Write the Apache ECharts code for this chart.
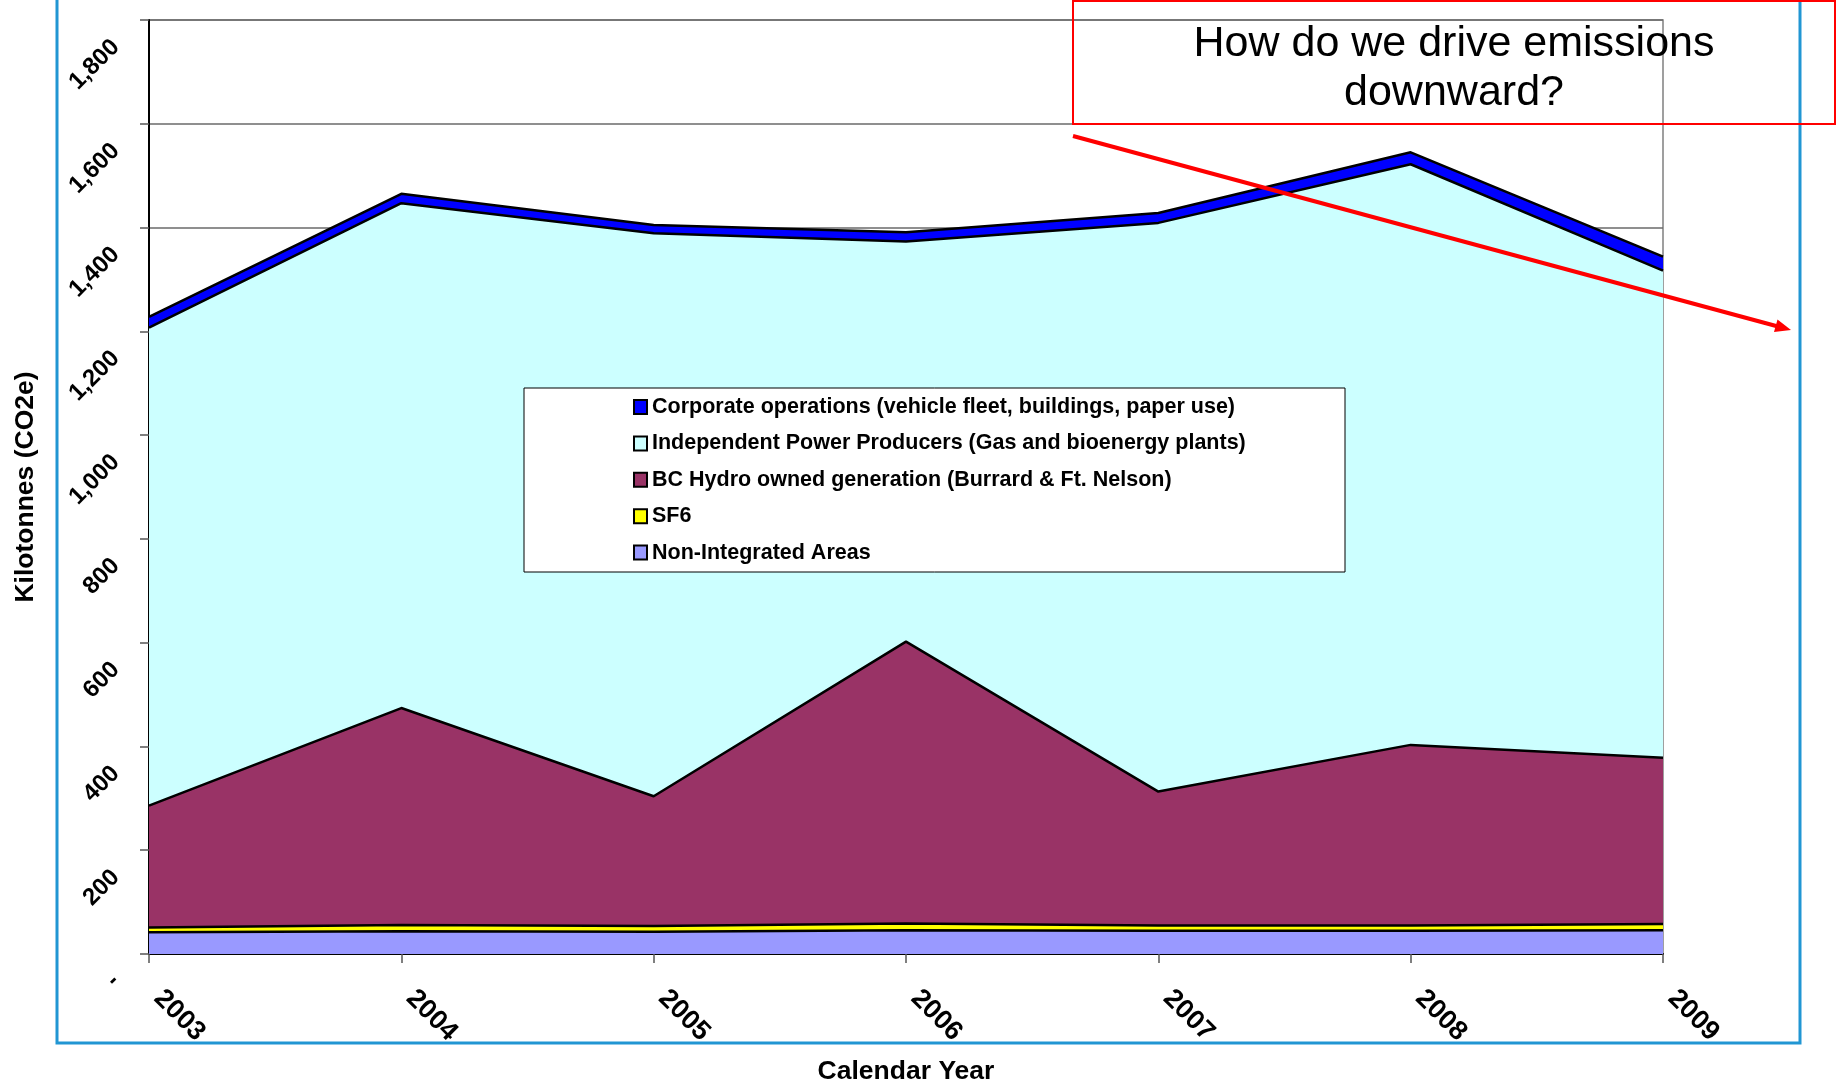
<!DOCTYPE html>
<html>
<head>
<meta charset="utf-8">
<title>BC Hydro emissions</title>
<script src="https://cdn.jsdelivr.net/npm/echarts@6/dist/echarts.min.js"></script>
<style>
  html, body { margin: 0; padding: 0; background: #fff; }
  #chart { width: 1839px; height: 1085px; }
</style>
</head>
<body>
<div id="chart"></div>
<script>
// years on the x axis
var years = ['2003', '2004', '2005', '2006', '2007', '2008', '2009'];

// kilotonnes CO2e (stacked bottom -> top)
var nonIntegrated = [42, 44, 43, 46, 45, 45, 46];
var sf6 = [9, 12, 11, 13, 10, 10, 12];
var bcHydro = [235, 418, 250, 543, 258, 348, 320];
var ipp = [921, 973, 1085, 771, 1096, 1119, 939];
var corporate = [21, 18, 16, 18, 19, 23, 27];

var yTicks = [0, 200, 400, 600, 800, 1000, 1200, 1400, 1600, 1800];

var FONT = '"Liberation Sans", Arial, Helvetica, sans-serif';

var layers = [
  { name: 'Non-Integrated Areas', data: nonIntegrated, color: '#9999ff' },
  { name: 'SF6', data: sf6, color: '#ffff00' },
  { name: 'BC Hydro owned generation (Burrard & Ft. Nelson)', data: bcHydro, color: '#993366' },
  { name: 'Independent Power Producers (Gas and bioenergy plants)', data: ipp, color: '#ccffff' },
  { name: 'Corporate operations (vehicle fleet, buildings, paper use)', data: corporate, color: '#0000ff' }
];

var series = [];
// filled bands
layers.forEach(function (l) {
  series.push({
    name: l.name,
    type: 'line',
    stack: 'bands',
    data: l.data,
    symbol: 'none',
    z: 2,
    itemStyle: { color: l.color, borderColor: '#000', borderWidth: 1.5 },
    lineStyle: { width: 0 },
    areaStyle: { color: l.color, opacity: 1 },
    emphasis: { disabled: true }
  });
});
// black outlines on top of all bands
layers.forEach(function (l) {
  series.push({
    name: 'edge ' + l.name,
    type: 'line',
    stack: 'edges',
    data: l.data,
    symbol: 'none',
    silent: true,
    z: 3,
    lineStyle: { color: '#000', width: 2.5 },
    emphasis: { disabled: true }
  });
});

var myChart = echarts.init(document.getElementById('chart'));

var option = {
  animation: false,
  backgroundColor: '#fff',
  textStyle: { fontFamily: FONT },
  grid: {
    left: 149, right: 176, top: 20, bottom: 131,
    outerBoundsMode: 'none',
    containLabel: false,
    show: true, borderColor: '#808080', borderWidth: 1.5, backgroundColor: 'transparent'
  },
  legend: {
    data: layers.map(function (l) { return l.name; }).reverse(),
    orient: 'vertical',
    left: 628,
    top: 391,
    itemWidth: 13,
    itemHeight: 14,
    itemGap: 14.4,
    icon: 'rect',
    selectedMode: false,
    textStyle: { fontFamily: FONT, fontSize: 21.5, fontWeight: 'bold', color: '#000', lineHeight: 22 }
  },
  xAxis: {
    type: 'category',
    data: years,
    boundaryGap: false,
    name: 'Calendar Year',
    nameLocation: 'middle',
    nameGap: 104,
    nameTextStyle: { fontFamily: FONT, fontSize: 26.5, fontWeight: 'bold', color: '#000' },
    axisLine: { lineStyle: { color: '#000', width: 2 } },
    axisTick: { show: true, length: 9, lineStyle: { color: '#555', width: 1.5 } },
    axisLabel: {
      rotate: -45, margin: 31, interval: 0, padding: [0, 0, 0, 13],
      fontFamily: FONT, fontSize: 27, fontWeight: 'bold', color: '#000'
    },
    splitLine: { show: false }
  },
  yAxis: {
    type: 'value',
    min: yTicks[0],
    max: yTicks[yTicks.length - 1],
    interval: 200,
    name: 'Kilotonnes (CO2e)',
    nameLocation: 'middle',
    nameRotate: 90,
    nameGap: 110,
    nameTextStyle: { fontFamily: FONT, fontSize: 26.5, fontWeight: 'bold', color: '#000' },
    axisLine: { show: true, lineStyle: { color: '#000', width: 2 } },
    axisTick: { show: true, length: 9, lineStyle: { color: '#555', width: 1.5 } },
    axisLabel: {
      rotate: 45, margin: 10, padding: [0, 33, 0, 0],
      fontFamily: FONT, fontSize: 24, fontWeight: 'bold', color: '#000',
      formatter: function (v) { return v === 0 ? '-' : v.toLocaleString('en-US'); }
    },
    splitLine: { show: true, lineStyle: { color: '#6a6a6a', width: 1.5 } }
  },
  graphic: [
    // outer slide frame
    {
      type: 'rect', z: 0, silent: true,
      shape: { x: 57, y: -6, width: 1743, height: 1049 },
      style: { fill: 'none', stroke: '#2196d3', lineWidth: 3 }
    },
    // legend box
    {
      type: 'rect', z: 3, silent: true,
      shape: { x: 524, y: 388, width: 821, height: 184 },
      style: { fill: '#fff', stroke: '#000', lineWidth: 1 }
    },
    // callout box
    {
      type: 'rect', z: 50, silent: true,
      shape: { x: 1073, y: 1, width: 762, height: 123 },
      style: { fill: 'none', stroke: '#ff0000', lineWidth: 2 }
    },
    {
      type: 'text', z: 50, silent: true,
      style: {
        x: 1454, y: 68.5,
        text: 'How do we drive emissions\ndownward?',
        font: '43px ' + FONT,
        lineHeight: 49,
        textAlign: 'center',
        textVerticalAlign: 'middle',
        fill: '#000'
      }
    },
    // trend arrow
    {
      type: 'line', z: 50, silent: true,
      shape: { x1: 1073, y1: 136, x2: 1778, y2: 326.5 },
      style: { stroke: '#ff0000', lineWidth: 4 }
    },
    {
      type: 'polygon', z: 50, silent: true,
      shape: { points: [[1791, 330], [1774, 332], [1777.5, 319.5]] },
      style: { fill: '#ff0000' }
    }
  ],
  series: series
};

myChart.setOption(option);
</script>
</body>
</html>
